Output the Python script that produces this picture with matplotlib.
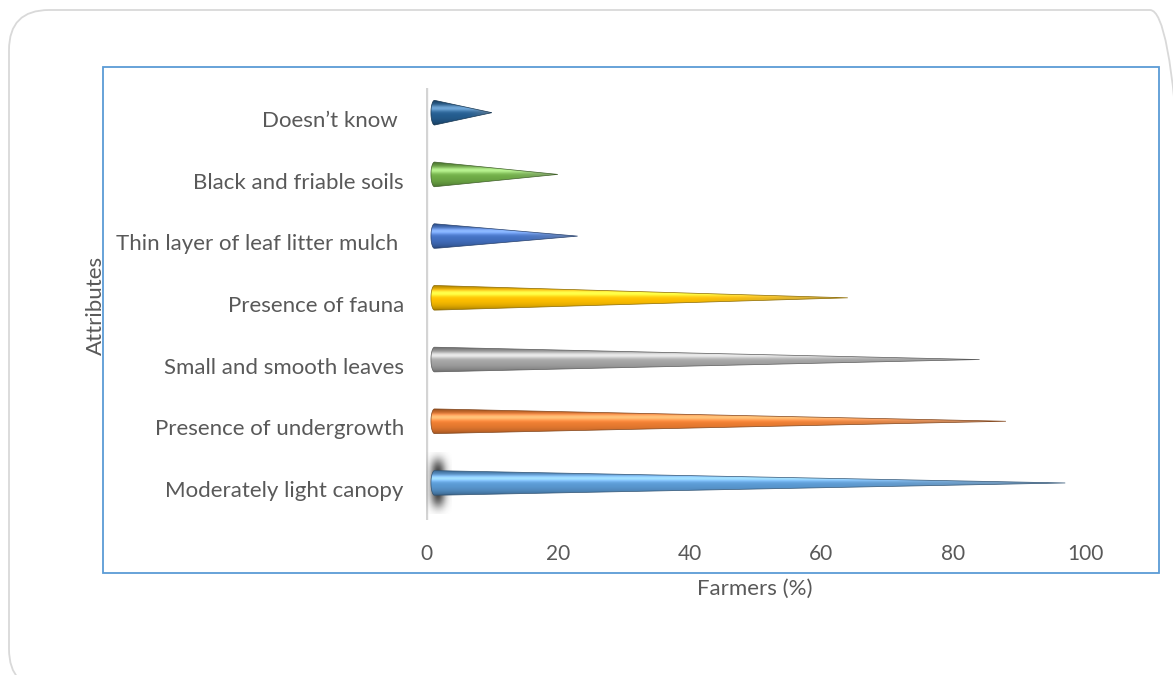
import numpy as np
import matplotlib
matplotlib.use("Agg")
import matplotlib.pyplot as plt
from matplotlib.patches import Polygon, FancyBboxPatch, Rectangle
from matplotlib.transforms import IdentityTransform
from matplotlib.colors import to_rgb

plt.rcParams['font.family'] = ['Lato', 'DejaVu Sans']

attributes = ['Moderately light canopy', 'Presence of undergrowth', 'Small and smooth leaves',
              'Presence of fauna', 'Thin layer of leaf litter mulch ', 'Black and friable soils',
              'Doesn\u2019t know ']
farmers_pct = [97, 88, 84, 64, 23, 20, 10]
cone_colors = ['#5B9BD5', '#ED7D31', '#A5A5A5', '#FFC000', '#4472C4', '#70AD47', '#255E91']

TEXT = '#595959'
W, H = 1173, 675

fig = plt.figure(figsize=(W / 100, H / 100), dpi=100)
ax = fig.add_axes([426 / W, 1 - 520 / H, (1085 - 426) / W, (520 - 88) / H])
for s in ax.spines.values():
    s.set_visible(False)
ax.axvline(0, color='#d4d4d4', lw=2.4, zorder=1)

ax.set_xticks(np.arange(0, 101, 20))
ax.set_yticks(range(len(attributes)))
ax.set_yticklabels(attributes)
ax.tick_params(length=0, labelcolor=TEXT)
ax.tick_params(axis='x', pad=17, labelsize=15)
ax.tick_params(axis='y', pad=16, labelsize=16)

ax.set_xlabel('Farmers (%)', fontsize=16, color=TEXT, va='center')
ax.xaxis.set_label_coords((755 - 426) / 659, (520 - 589) / 432)
ax.set_ylabel('Attributes', fontsize=16, color=TEXT, va='center')
ax.yaxis.set_label_coords((96 - 426) / 659, (520 - 305) / 432)


def cone_image(color, ny=80, nx=240):
    base = np.array(to_rgb(color))
    t = np.linspace(0, 1, ny)[:, None]
    s = np.linspace(0, 1, nx)[None, :]
    shade = 0.6 + 0.4 * np.sin(np.pi * t) ** 0.6
    hl = 0.3 * np.exp(-((t - 0.68) / 0.13) ** 2)
    img = base[None, None, :] * shade[..., None] + hl[..., None]
    img = np.broadcast_to(img, (ny, nx, 3)).copy()
    g = (np.clip((s - 0.55) / 0.45, 0, 1) ** 1.6 * 0.55)[..., None]
    img = (1 - g) * img + g * 0.55
    return np.clip(img, 0, 1)


half = 0.2      # cone radius in category units
lift = 0.1      # depth offset of the 3D cones
x0 = 1.3        # base of the cones
cap = 0.55      # horizontal bulge of the rounded base

for i, (val, col) in enumerate(zip(farmers_pct, cone_colors)):
    yc = i + lift
    ang = np.linspace(np.pi / 2, 3 * np.pi / 2, 40)
    arc = np.column_stack([x0 + cap * np.cos(ang), yc + half * np.sin(ang)])
    pts = np.vstack([arc, [[val, yc]]])
    poly = Polygon(pts, closed=True, facecolor='none',
                   edgecolor=tuple(np.array(to_rgb(col)) * 0.55), lw=0.5, zorder=4)
    ax.add_patch(poly)
    im = ax.imshow(cone_image(col), extent=(x0 - cap, val, yc - half, yc + half),
                   origin='lower', aspect='auto', zorder=3, interpolation='bilinear')
    im.set_clip_path(poly)

    if i == 0:
        # soft shadow behind the base of the first cone
        yy, xx = np.mgrid[-1:1:80j, -1:1:50j]
        a = np.exp(-(xx ** 2) / 0.3 - (yy ** 4) / 0.35) * 0.9
        sh = np.zeros((80, 50, 4))
        sh[..., :3] = 0.15
        sh[..., 3] = np.clip(a, 0, 1)
        ax.imshow(sh, extent=(-0.3, 3.9, yc - 0.5, yc + 0.5), origin='lower',
                  aspect='auto', zorder=2, interpolation='bilinear')

ax.set_xlim(0, 100)
ax.set_ylim(-0.5, len(attributes) - 0.5)

# frames around the chart
fig.add_artist(FancyBboxPatch((9, -14), 1181, 679, boxstyle='round,pad=0,rounding_size=40',
                              transform=IdentityTransform(), facecolor='none',
                              edgecolor='#d9d9d9', lw=1.3))
fig.add_artist(Rectangle((103, H - 573), 1159 - 103, 573 - 67, transform=IdentityTransform(),
                         facecolor='none', edgecolor='#5B9BD5', lw=1.3))

fig.savefig('out.png', dpi=100)
